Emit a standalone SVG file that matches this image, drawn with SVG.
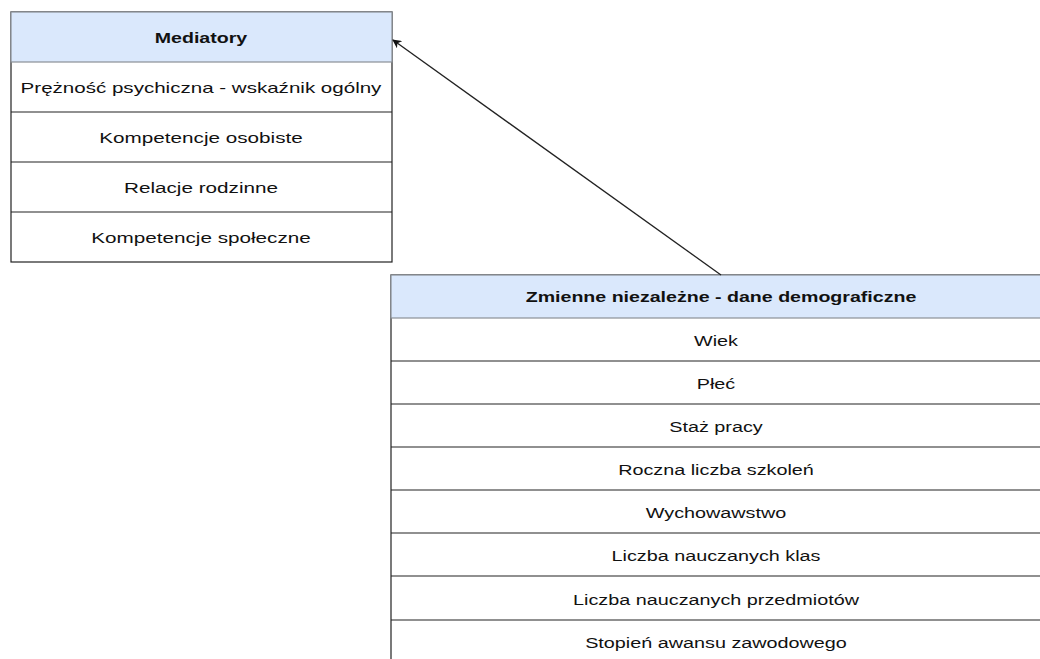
<svg xmlns="http://www.w3.org/2000/svg" width="1040" height="659" viewBox="0 0 1040 659">
  <style>
    .hdr { fill: #dae8fc; stroke: #8a8f96; stroke-width: 1.2; }
    .row { fill: #ffffff; stroke: #222; stroke-width: 1.2; }
    .t { font-family: "Liberation Sans", Arial, sans-serif; font-size: 15px; fill: #111; text-anchor: middle; }
    .b { font-weight: bold; font-size: 14px; }
    .edge { fill: none; stroke: #222; stroke-width: 1.3; }
  </style>
  <defs>
    <marker id="arrow" viewBox="0 0 10 10" refX="9" refY="5" markerWidth="9" markerHeight="9" orient="auto" markerUnits="userSpaceOnUse">
      <path d="M0,0 L10,5 L0,10 L3,5 Z" fill="#111"/>
    </marker>
  </defs>
  <rect width="1040" height="659" fill="#ffffff"/>

  <!-- mediator variables table -->
  <g id="mediatory">
    <rect class="row" x="11" y="12" width="381" height="250"/>
    <rect class="hdr" x="11" y="12" width="381" height="50"/>
    <line class="row" x1="11" y1="112" x2="392" y2="112"/>
    <line class="row" x1="11" y1="162" x2="392" y2="162"/>
    <line class="row" x1="11" y1="212" x2="392" y2="212"/>
    <text class="t b" transform="translate(201,43) scale(1.4,1)">Mediatory</text>
    <text class="t" transform="translate(201,93) scale(1.37,1)">Prężność psychiczna - wskaźnik ogólny</text>
    <text class="t" transform="translate(201,143) scale(1.38,1)">Kompetencje osobiste</text>
    <text class="t" transform="translate(201,193) scale(1.38,1)">Relacje rodzinne</text>
    <text class="t" transform="translate(201,243) scale(1.38,1)">Kompetencje społeczne</text>
  </g>

  <!-- independent demographic variables table -->
  <g id="zmienne">
    <rect class="row" x="391" y="275" width="660" height="400"/>
    <rect class="hdr" x="391" y="275" width="660" height="43"/>
    <line class="row" x1="391" y1="361" x2="1051" y2="361"/>
    <line class="row" x1="391" y1="404" x2="1051" y2="404"/>
    <line class="row" x1="391" y1="447" x2="1051" y2="447"/>
    <line class="row" x1="391" y1="490" x2="1051" y2="490"/>
    <line class="row" x1="391" y1="533" x2="1051" y2="533"/>
    <line class="row" x1="391" y1="576" x2="1051" y2="576"/>
    <line class="row" x1="391" y1="620" x2="1051" y2="620"/>
    <text class="t b" transform="translate(721,302) scale(1.4,1)">Zmienne niezależne - dane demograficzne</text>
    <text class="t" transform="translate(716,346) scale(1.32,1)">Wiek</text>
    <text class="t" transform="translate(716,389) scale(1.32,1)">Płeć</text>
    <text class="t" transform="translate(716,432) scale(1.32,1)">Staż pracy</text>
    <text class="t" transform="translate(716,475) scale(1.32,1)">Roczna liczba szkoleń</text>
    <text class="t" transform="translate(716,518) scale(1.32,1)">Wychowawstwo</text>
    <text class="t" transform="translate(716,561) scale(1.32,1)">Liczba nauczanych klas</text>
    <text class="t" transform="translate(716,605) scale(1.32,1)">Liczba nauczanych przedmiotów</text>
    <text class="t" transform="translate(716,648) scale(1.32,1)">Stopień awansu zawodowego</text>
  </g>

  <!-- connectors -->
  <g id="connectors">
    <line class="edge" x1="721" y1="275" x2="393" y2="40" marker-end="url(#arrow)"/>
  </g>
</svg>
